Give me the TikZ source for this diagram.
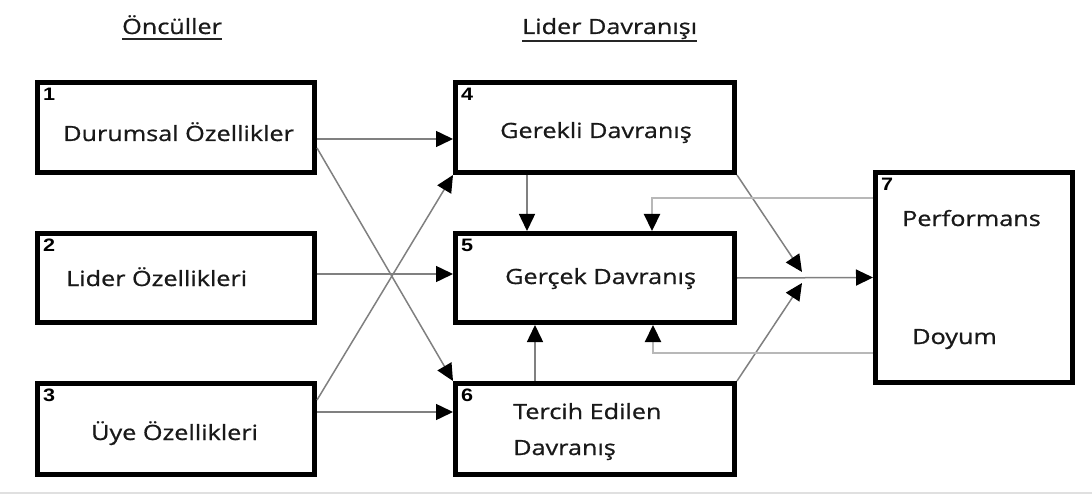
\documentclass[tikz,border=0pt]{standalone}
\usepackage{fontspec}
\setmainfont{Open Sans}[FakeStretch=1.2, FakeBold=0.8]
\newfontfamily\numfont{Liberation Sans}[FakeStretch=1.2]
\usetikzlibrary{arrows.meta}
\tikzset{
  box/.style={draw=black, line width=5pt, fill=white, inner sep=0pt},
  txt/.style={font=\fontsize{21}{25}\selectfont, inner sep=0pt, anchor=base west, text=black!90},
  num/.style={font=\numfont\bfseries\fontsize{18}{18}\selectfont, inner sep=0pt, anchor=north west},
  tip/.style={-{Triangle[length=17pt,width=16pt,color=black]}},
  conn/.style={draw=black!50, line width=1.5pt, tip},
  fb/.style={draw=black!28, line width=2.2pt, tip},
}
\begin{document}
\begin{tikzpicture}[x=1pt,y=-1pt]
\useasboundingbox[fill=white] (0,0) rectangle (1092,497);
\draw[black!12, line width=2pt] (0,493) -- (1092,493);

% titles
\node[txt] (h1) at (122,34) {Öncüller};
\node[txt] (h2) at (522,34) {Lider Davranışı};
\draw[black!85, line width=1.5pt] ([yshift=-5pt]h1.base west) -- ([yshift=-5pt]h1.base east);
\draw[black!85, line width=1.5pt] ([yshift=-7pt]h2.base west) -- ([yshift=-7pt]h2.base east);

% boxes
\node[box, minimum width=277pt, minimum height=90pt] (b1) at (176,127.5) {};
\node[box, minimum width=277pt, minimum height=89pt] (b2) at (176,278) {};
\node[box, minimum width=277pt, minimum height=91pt] (b3) at (176,429) {};
\node[box, minimum width=279pt, minimum height=90pt] (b4) at (595,127.5) {};
\node[box, minimum width=279pt, minimum height=89pt] (b5) at (595,278) {};
\node[box, minimum width=279pt, minimum height=91pt] (b6) at (595,429) {};
\node[box, minimum width=197pt, minimum height=210pt] (b7) at (974,277.5) {};

% numbers
\foreach \b/\n in {b1/1,b2/2,b3/3,b4/4,b5/5,b6/6,b7/7}
  \node[num] (n\n) at ([xshift=8pt,yshift=-8pt]\b.north west) {\n};

% texts
\node[txt] (t1) at (63,141) {Durumsal Özellikler};
\node[txt] (t2) at (66,286) {Lider Özellikleri};
\node[txt] (t3) at (91,440) {Üye Özellikleri};
\node[txt] (t4) at (500,138) {Gerekli Davranış};
\node[txt] (t5) at (505,284) {Gerçek Davranış};
\node[txt] (t6a) at (513,419) {Tercih Edilen};
\node[txt] (t6b) at (513,455) {Davranış};
\node[txt] (t7a) at (902,226) {Performans};
\node[txt] (t7b) at (912,344) {Doyum};

% junction points
\coordinate (j1) at (802,272);
\coordinate (j2) at (802,283);

% connectors
\draw[conn] ([yshift=-11.5pt]b1.east) -- ([yshift=-11.5pt]b4.west);
\draw[conn] ([yshift=4pt]b2.east) -- ([yshift=4pt]b5.west);
\draw[conn] ([yshift=17pt]b3.east) -- ([yshift=17pt]b6.west);
\draw[conn] ([yshift=-20.5pt]b1.east) -- (b6.north west);
\draw[conn] ([yshift=29pt]b3.east) -- (b4.south west);
\draw[conn] ([xshift=-68pt]b4.south) -- ([xshift=-68pt]b5.north);
\draw[conn] ([xshift=-60pt]b6.north) -- ([xshift=-60pt]b5.south);
\draw[conn] (b4.south east) -- (j1);
\draw[conn] (b6.north east) -- (j2);
\draw[conn] (b5.east) -- (b7.west);
\draw[fb] ([yshift=79.5pt]b7.west) -| ([xshift=57pt]b5.north);
\draw[fb] ([yshift=-75.5pt]b7.west) -| ([xshift=58pt]b5.south);
\end{tikzpicture}
\end{document}
